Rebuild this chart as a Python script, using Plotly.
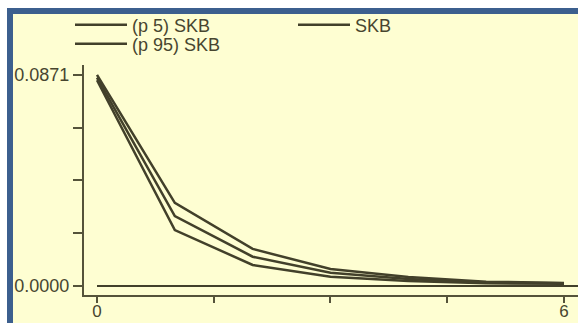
import plotly.graph_objects as go

# Time points and the three curves (5th percentile, median, 95th percentile)
periods = [0, 1, 2, 3, 4, 5, 6]
skb_p5 = [0.0849, 0.0231, 0.0087, 0.0038, 0.0021, 0.0011, 0.0009]
skb_mid = [0.0860, 0.0289, 0.0121, 0.0055, 0.0029, 0.0014, 0.0011]
skb_p95 = [0.0871, 0.0343, 0.0153, 0.0070, 0.0037, 0.0018, 0.0013]

series_names = ["(p 5) SKB", "SKB", "(p 95) SKB"]

y_top = 0.0871
y_ticks = [0, y_top / 4, y_top / 2, 3 * y_top / 4, y_top]
y_ticktext = ["0.0000", "", "", "", "0.0871"]
x_ticks = [0, 1.5, 3, 4.5, 6]
x_ticktext = ["0", "", "", "", "6"]

W, H = 578, 323
ML, MR, MT, MB = 84, 0, 65, 28
PW, PH = W - ML - MR, H - MT - MB

def px_x(px):
    return (px - ML) / PW

def px_y(py):
    return (H - MB - py) / PH

LINE = "#42402a"
AXIS = "#55533a"
TEXT = "#47452f"
BG = "#fefed2"
BLUE = "#3c5f8e"
FONT = "Liberation Sans, Arial, sans-serif"

fig = go.Figure()
for name, vals, leg in zip(series_names, [skb_p5, skb_mid, skb_p95],
                           ["legend", "legend2", "legend3"]):
    fig.add_trace(go.Scatter(
        x=periods, y=vals, mode="lines", name=name, legend=leg,
        line=dict(color=LINE, width=2.5),
    ))

# zero reference line
fig.add_shape(type="line", xref="x", yref="y", x0=0, x1=6.2, y0=0, y1=0,
              line=dict(color=LINE, width=2), layer="above")

# framed panel: yellow fill with blue edge
fig.add_shape(type="rect", xref="paper", yref="paper",
              x0=px_x(10), x1=px_x(600), y0=px_y(340), y1=px_y(11),
              fillcolor=BG, line=dict(color=BLUE, width=6), layer="below")

leg_common = dict(
    orientation="h", xanchor="left", yanchor="middle",
    bgcolor="rgba(0,0,0,0)", borderwidth=0,
    font=dict(family=FONT, size=18, color=TEXT),
    itemwidth=52, tracegroupgap=0,
)

fig.update_layout(
    width=W, height=H,
    margin=dict(l=ML, r=MR, t=MT, b=MB, autoexpand=False),
    paper_bgcolor="white",
    plot_bgcolor="rgba(0,0,0,0)",
    font=dict(family=FONT, size=18, color=TEXT),
    showlegend=True,
    legend=dict(x=px_x(70), y=px_y(25), **leg_common),
    legend2=dict(x=px_x(293), y=px_y(25), **leg_common),
    legend3=dict(x=px_x(70), y=px_y(44), **leg_common),
    xaxis=dict(
        range=[-0.167, 6.18], tickmode="array", tickvals=x_ticks, ticktext=x_ticktext,
        showgrid=False, zeroline=False, showline=True, linecolor=AXIS, linewidth=2,
        ticks="outside", ticklen=6, tickwidth=2, tickcolor=AXIS,
        ticklabelstandoff=-6,
        tickfont=dict(family=FONT, size=17, color=TEXT),
    ),
    yaxis=dict(
        range=[-0.0037, 0.0912], tickmode="array", tickvals=y_ticks, ticktext=y_ticktext,
        showgrid=False, zeroline=False, showline=True, linecolor=AXIS, linewidth=2,
        ticks="outside", ticklen=9, tickwidth=2, tickcolor=AXIS,
        tickfont=dict(family=FONT, size=18, color=TEXT),
    ),
)

fig.write_html("out.html")
